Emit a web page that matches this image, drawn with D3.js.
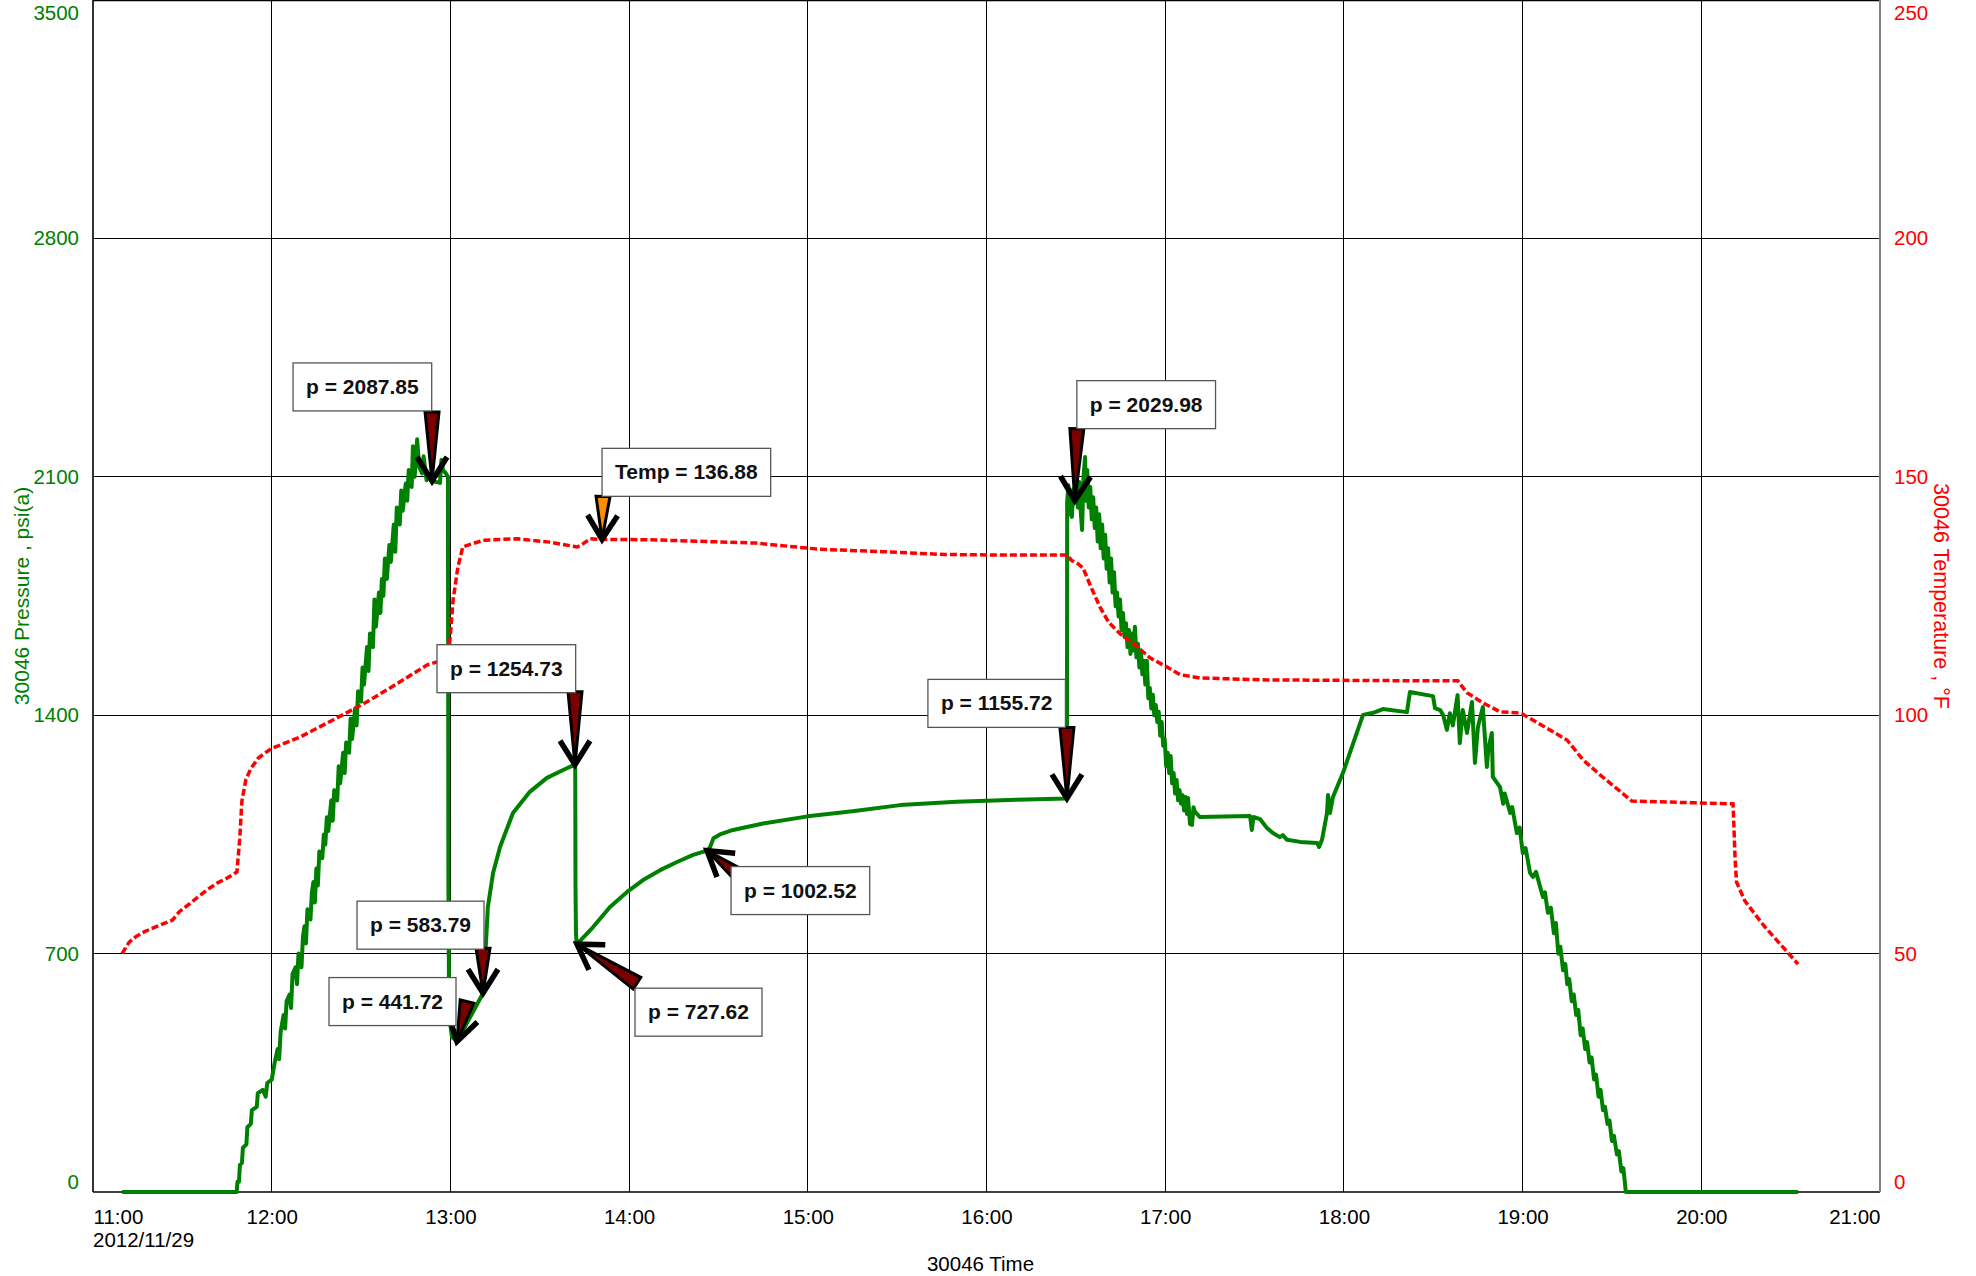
<!DOCTYPE html>
<html>
<head>
<meta charset="utf-8">
<script src="https://cdn.jsdelivr.net/npm/d3@7"></script>
<style>
  body { margin: 0; background: #fff; }
  svg { display: block; font-family: "Liberation Sans", Arial, sans-serif; }
</style>
</head>
<body>
<div id="wrapper"></div>
<script>
// gauge 30046, 2012/11/29 - clock times and readings taken off the plot

const pressureTimes = [
  "11:09:45", "11:48:15", "11:48:30", "11:49:00", "11:49:20", "11:50:00", "11:50:20", "11:51:30", "11:51:50", "11:53:00",
  "11:53:20", "11:55:00", "11:55:20", "11:57:00", "11:58:00", "11:58:30", "12:00:00", "12:01:00", "12:02:00", "12:02:30",
  "12:03:00", "12:04:00", "12:04:30", "12:05:00", "12:06:00", "12:06:30", "12:07:00", "12:08:00", "12:08:30", "12:09:00",
  "12:10:00", "12:10:30", "12:11:00", "12:11:30", "12:12:00", "12:13:00", "12:13:30", "12:14:00", "12:14:30", "12:15:00",
  "12:15:30", "12:16:00", "12:17:00", "12:17:30", "12:18:00", "12:18:30", "12:19:00", "12:20:00", "12:20:30", "12:21:00",
  "12:22:00", "12:22:30", "12:23:00", "12:24:00", "12:24:30", "12:25:00", "12:26:00", "12:26:30", "12:27:00", "12:28:00",
  "12:28:30", "12:29:00", "12:30:00", "12:30:30", "12:31:00", "12:32:00", "12:32:30", "12:33:00", "12:34:00", "12:34:30",
  "12:35:00", "12:36:00", "12:36:30", "12:37:00", "12:37:30", "12:38:00", "12:38:40", "12:39:30", "12:40:00", "12:41:00",
  "12:41:30", "12:42:00", "12:43:00", "12:43:30", "12:44:00", "12:45:00", "12:45:30", "12:46:00", "12:47:00", "12:47:25",
  "12:48:00", "12:48:50", "12:49:30", "12:50:30", "12:51:00", "12:52:00", "12:53:00", "12:53:50", "12:56:30", "12:57:00",
  "12:57:30", "12:58:30", "12:59:10", "12:59:20", "12:59:35", "13:00:30", "13:02:13", "13:10:57", "13:11:20", "13:12:00",
  "13:12:35", "13:14:20", "13:16:40", "13:21:00", "13:26:40", "13:32:25", "13:37:50", "13:41:50", "13:41:55", "13:42:00",
  "13:42:10", "13:42:20", "13:42:30", "13:47:55", "13:53:35", "13:59:20", "14:04:40", "14:10:25", "14:16:05", "14:21:30",
  "14:26:10", "14:27:10", "14:28:20", "14:30:30", "14:34:55", "14:45:00", "15:00:00", "15:15:00", "15:31:00", "15:50:00",
  "16:10:00", "16:27:00", "16:27:05", "16:27:30", "16:27:50", "16:28:10", "16:28:40", "16:29:10", "16:29:40", "16:30:10",
  "16:30:40", "16:31:10", "16:31:40", "16:32:05", "16:32:35", "16:33:05", "16:33:25", "16:33:50", "16:34:20", "16:34:50",
  "16:35:20", "16:35:50", "16:36:20", "16:36:50", "16:37:20", "16:37:50", "16:38:20", "16:38:50", "16:39:20", "16:39:50",
  "16:40:20", "16:40:50", "16:41:20", "16:41:50", "16:42:20", "16:42:50", "16:43:20", "16:43:50", "16:44:20", "16:44:50",
  "16:45:20", "16:45:50", "16:46:20", "16:46:50", "16:47:20", "16:47:50", "16:48:20", "16:48:50", "16:49:20", "16:49:50",
  "16:50:20", "16:50:50", "16:51:20", "16:51:50", "16:52:20", "16:52:50", "16:53:20", "16:53:50", "16:54:20", "16:54:50",
  "16:55:20", "16:55:50", "16:56:20", "16:56:50", "16:57:20", "16:57:50", "16:58:20", "16:58:50", "16:59:20", "16:59:50",
  "17:00:20", "17:00:50", "17:01:20", "17:01:50", "17:02:20", "17:02:50", "17:03:20", "17:03:50", "17:04:20", "17:04:50",
  "17:05:20", "17:05:50", "17:06:20", "17:06:50", "17:07:20", "17:07:40", "17:08:20", "17:09:00", "17:09:30", "17:10:00",
  "17:11:40", "17:28:30", "17:29:05", "17:29:40", "17:31:50", "17:34:10", "17:36:10", "17:38:30", "17:39:30", "17:40:55",
  "17:45:20", "17:51:00", "17:51:40", "17:52:40", "17:54:20", "17:54:40", "17:55:20", "17:56:20", "17:59:40", "18:06:25",
  "18:09:50", "18:13:05", "18:21:10", "18:22:10", "18:29:55", "18:30:35", "18:32:20", "18:33:20", "18:34:35", "18:35:35",
  "18:36:35", "18:38:10", "18:38:55", "18:39:55", "18:41:20", "18:43:00", "18:44:00", "18:45:00", "18:46:40", "18:48:00",
  "18:48:30", "18:49:40", "18:50:00", "18:52:25", "18:53:30", "18:54:00", "18:55:50", "18:56:30", "18:58:05", "18:59:00",
  "19:00:05", "19:01:00", "19:02:30", "19:03:30", "19:04:30", "19:06:50", "19:07:30", "19:08:30", "19:09:30", "19:10:30",
  "19:11:10", "19:12:00", "19:12:40", "19:13:35", "19:14:20", "19:15:00", "19:15:40", "19:16:30", "19:17:10", "19:18:00",
  "19:18:40", "19:19:30", "19:20:10", "19:21:00", "19:21:40", "19:22:30", "19:23:10", "19:24:00", "19:24:40", "19:25:30",
  "19:26:10", "19:27:00", "19:27:40", "19:28:30", "19:29:10", "19:30:00", "19:30:40", "19:31:40", "19:32:20", "19:33:10",
  "19:33:50", "19:34:40", "20:32:30"
]
const pressureValues = [
  0, 0, 30, 30, 80, 85, 130, 140, 190, 200,
  240, 250, 290, 300, 280, 320, 330, 380, 420, 390,
  470, 520, 480, 560, 580, 540, 640, 660, 610, 700,
  660, 750, 780, 730, 830, 800, 880, 910, 850, 950,
  900, 1000, 980, 1050, 1020, 1100, 1060, 1150, 1090, 1180,
  1150, 1250, 1200, 1290, 1230, 1320, 1290, 1390, 1330, 1420,
  1370, 1470, 1440, 1540, 1490, 1600, 1530, 1640, 1600, 1740,
  1660, 1760, 1700, 1800, 1750, 1860, 1800, 1900, 1850, 1960,
  1880, 2010, 1960, 2060, 2000, 2080, 2030, 2120, 2070, 2190,
  2100, 2210, 2130, 2110, 2160, 2090, 2100, 2087.85, 2082, 2150,
  2120, 2110, 2100, 900, 520, 455, 441.72, 583.79, 652, 740,
  837, 937, 1013, 1113, 1175, 1216, 1239, 1254.73, 1240, 900,
  760, 735, 727.62, 778, 837, 881, 916, 945, 969, 990,
  1002.52, 1012, 1039, 1050, 1063, 1082, 1103, 1118, 1136, 1146,
  1152, 1155.72, 2026, 2075, 1990, 2053, 1982, 2065, 2029.98, 2110,
  2010, 2085, 1995, 1944, 2100, 2158, 2030, 2120, 2010, 2070,
  1975, 2040, 1950, 2010, 1910, 1990, 1890, 1960, 1860, 1930,
  1830, 1890, 1790, 1860, 1760, 1820, 1720, 1760, 1690, 1740,
  1650, 1700, 1630, 1670, 1600, 1650, 1580, 1640, 1590, 1660,
  1570, 1610, 1540, 1590, 1520, 1560, 1490, 1560, 1450, 1480,
  1420, 1460, 1400, 1430, 1380, 1410, 1340, 1380, 1310, 1330,
  1250, 1290, 1230, 1280, 1200, 1230, 1170, 1210, 1150, 1180,
  1140, 1165, 1120, 1160, 1110, 1157, 1080, 1078, 1130, 1116,
  1101, 1104, 1063, 1101, 1095, 1069, 1054, 1042, 1048, 1034,
  1028, 1025, 1013, 1035, 1113, 1166, 1113, 1160, 1230, 1401,
  1407, 1418, 1409, 1468, 1456, 1421, 1415, 1400, 1357, 1406,
  1370, 1459, 1318, 1415, 1348, 1439, 1260, 1365, 1424, 1248,
  1300, 1348, 1219, 1189, 1140, 1170, 1113, 1130, 1054, 1070,
  995, 1010, 937, 925, 940, 866, 880, 820, 835, 760,
  790, 700, 720, 651, 670, 610, 625, 560, 580, 520,
  535, 460, 480, 420, 440, 380, 395, 330, 345, 280,
  300, 240, 250, 200, 210, 150, 165, 110, 120, 60,
  70, 0, 0
]

const temperatureTimes = [
  "11:09:45", "11:12:10", "11:14:30", "11:17:20", "11:21:00", "11:26:40", "11:29:00", "11:32:10", "11:35:30", "11:38:35",
  "11:42:00", "11:44:55", "11:48:20", "11:49:15", "11:50:00", "11:51:20", "11:53:00", "11:55:30", "11:59:50", "12:09:30",
  "12:20:35", "12:32:00", "12:43:05", "12:52:05", "12:55:30", "12:58:55", "12:59:30", "13:00:55", "13:02:30", "13:04:10",
  "13:11:00", "13:22:25", "13:33:25", "13:42:30", "13:43:30", "13:46:55", "13:50:55", "14:07:00", "14:42:35", "15:03:50",
  "15:25:00", "15:46:00", "16:04:30", "16:27:00", "16:28:30", "16:30:25", "16:32:25", "16:35:00", "16:38:05", "16:41:00",
  "16:45:00", "16:49:10", "16:55:00", "17:00:35", "17:05:00", "17:11:40", "17:34:10", "18:29:55", "18:38:15", "18:41:20",
  "18:46:40", "18:52:25", "18:58:05", "19:00:05", "19:09:10", "19:14:55", "19:20:20", "19:26:00", "19:36:40", "20:10:40",
  "20:11:20", "20:11:50", "20:14:40", "20:21:05", "20:27:30", "20:32:30"
]
const temperatureValues = [
  50, 52.4, 53.6, 54.6, 55.6, 57, 58.8, 60.3, 62, 63.5,
  64.9, 65.8, 67.1, 74, 82, 86.5, 88.8, 91, 93, 95.4,
  99, 102.8, 107, 110.5, 111.2, 112, 113, 124.2, 131, 135.3,
  136.7, 137, 136.3, 135.3, 135.5, 137, 136.88, 136.8, 136.1, 134.8,
  134.3, 133.7, 133.6, 133.6, 132.5, 131.9, 130.9, 127, 122.7, 119.5,
  117, 115.1, 112, 110.1, 108.5, 107.8, 107.4, 107.2, 107.2, 104.7,
  102.6, 100.7, 100.5, 100.2, 96.9, 94.8, 90.6, 87.5, 82, 81.4,
  70, 65, 61, 55.8, 51.3, 47.8
]

const pressureTicks = [0, 700, 1400, 2100, 2800, 3500]
const temperatureTicks = [0, 50, 100, 150, 200, 250]
const hourTicks = ["11:00", "12:00", "13:00", "14:00", "15:00", "16:00", "17:00", "18:00", "19:00", "20:00", "21:00"]
const dateLabel = "2012/11/29"

const calloutLabels = ["p = 2087.85", "Temp = 136.88", "p = 1254.73", "p = 583.79", "p = 441.72",
  "p = 727.62", "p = 1002.52", "p = 1155.72", "p = 2029.98"]
const calloutTimes = ["12:53:50", "13:50:55", "13:41:50", "13:10:57", "13:02:13",
  "13:42:30", "14:26:10", "16:27:00", "16:29:40"]
const calloutValues = [2087.85, 136.88, 1254.73, 583.79, 441.72, 727.62, 1002.52, 1155.72, 2029.98]
const calloutSeries = ["p", "T", "p", "p", "p", "p", "p", "p", "p"]

function drawChart() {

  // 1. Access data

  const parseClock = d3.timeParse("%Y-%m-%d %H:%M:%S")
  const toDate = s => parseClock("2012-11-29 " + (s.length === 5 ? s + ":00" : s))

  const pressure = d3.zip(pressureTimes, pressureValues).map(([t, v]) => ({ date: toDate(t), value: v }))
  const temperature = d3.zip(temperatureTimes, temperatureValues).map(([t, v]) => ({ date: toDate(t), value: v }))
  const hours = hourTicks.map(toDate)

  // 2. Create chart dimensions

  let dimensions = {
    width: 1976,
    height: 1276,
    margin: {
      top: 0,
      right: 96,
      bottom: 84,
      left: 93,
    },
  }
  dimensions.boundedWidth = dimensions.width - dimensions.margin.left - dimensions.margin.right
  dimensions.boundedHeight = dimensions.height - dimensions.margin.top - dimensions.margin.bottom

  const green = "#008000"
  const red = "#ff0000"

  // 3. Draw canvas

  const wrapper = d3.select("#wrapper")
    .append("svg")
      .attr("width", dimensions.width)
      .attr("height", dimensions.height)

  const bounds = wrapper.append("g")
      .attr("transform", `translate(${dimensions.margin.left}, ${dimensions.margin.top})`)

  // 4. Create scales

  const xScale = d3.scaleTime()
    .domain([hours[0], hours[hours.length - 1]])
    .range([0, dimensions.boundedWidth])

  const pressureScale = d3.scaleLinear()
    .domain([0, 3500])
    .range([dimensions.boundedHeight, 0])

  const temperatureScale = d3.scaleLinear()
    .domain([0, 250])
    .range([dimensions.boundedHeight, 0])

  // grid
  const grid = bounds.append("g")
      .attr("stroke", "#000")
      .attr("stroke-width", 1)
      .attr("shape-rendering", "crispEdges")

  grid.selectAll(".v")
    .data(hours.slice(1, -1))
    .join("line")
      .attr("x1", d => xScale(d))
      .attr("x2", d => xScale(d))
      .attr("y1", 0)
      .attr("y2", dimensions.boundedHeight)

  grid.selectAll(".h")
    .data(pressureTicks.slice(1, -1))
    .join("line")
      .attr("x1", 0)
      .attr("x2", dimensions.boundedWidth)
      .attr("y1", d => pressureScale(d))
      .attr("y2", d => pressureScale(d))

  // frame
  bounds.append("line")
      .attr("x1", 0).attr("x2", dimensions.boundedWidth)
      .attr("y1", 0.5).attr("y2", 0.5)
      .attr("stroke", "#000").attr("stroke-width", 1.5)
  bounds.append("line")
      .attr("x1", 0).attr("x2", dimensions.boundedWidth)
      .attr("y1", dimensions.boundedHeight).attr("y2", dimensions.boundedHeight)
      .attr("stroke", "#000").attr("stroke-width", 1.6)
  bounds.append("line")
      .attr("x1", 0).attr("x2", 0)
      .attr("y1", 0).attr("y2", dimensions.boundedHeight)
      .attr("stroke", "#000").attr("stroke-width", 1.6)
  bounds.append("line")
      .attr("x1", dimensions.boundedWidth).attr("x2", dimensions.boundedWidth)
      .attr("y1", 0).attr("y2", dimensions.boundedHeight)
      .attr("stroke", "#808080").attr("stroke-width", 2)

  // 5. Draw data

  const pressureLine = d3.line()
    .x(d => xScale(d.date))
    .y(d => pressureScale(d.value))

  const temperatureLine = d3.line()
    .x(d => xScale(d.date))
    .y(d => temperatureScale(d.value))

  bounds.append("path")
      .datum(pressure)
      .attr("d", pressureLine)
      .attr("fill", "none")
      .attr("stroke", green)
      .attr("stroke-width", 4)
      .attr("stroke-linejoin", "round")

  bounds.append("path")
      .datum(temperature)
      .attr("d", temperatureLine)
      .attr("fill", "none")
      .attr("stroke", red)
      .attr("stroke-width", 3.5)
      .attr("stroke-dasharray", "7,3")

  // 6. Draw peripherals

  const axisFont = g => g
      .attr("font-family", "'Liberation Sans', Arial, sans-serif")
      .attr("font-size", 20.5)
      .call(g => g.select(".domain").remove())

  const leftAxis = bounds.append("g")
    .call(d3.axisLeft(pressureScale).tickValues(pressureTicks).tickFormat(d3.format("d")).tickSize(0).tickPadding(14))
    .call(axisFont)
  leftAxis.selectAll("text").attr("fill", green)

  const rightAxis = bounds.append("g")
      .attr("transform", `translate(${dimensions.boundedWidth}, 0)`)
    .call(d3.axisRight(temperatureScale).tickValues(temperatureTicks).tickFormat(d3.format("d")).tickSize(0).tickPadding(14))
    .call(axisFont)
  rightAxis.selectAll("text").attr("fill", red)

  // keep the end labels inside the plot height
  ;[leftAxis, rightAxis].forEach(axis => {
    axis.selectAll(".tick text")
      .attr("dy", (d, i, nodes) => i === 0 ? "-0.18em" : i === nodes.length - 1 ? "0.95em" : "0.32em")
  })

  const xAxis = bounds.append("g")
      .attr("transform", `translate(0, ${dimensions.boundedHeight})`)
    .call(d3.axisBottom(xScale).tickValues(hours).tickFormat(d3.timeFormat("%H:%M")).tickSize(0).tickPadding(17))
    .call(axisFont)
  xAxis.selectAll(".tick text")
      .attr("fill", "#000")
      .attr("text-anchor", (d, i) => i === 0 ? "start" : i === hours.length - 1 ? "end" : "middle")

  xAxis.append("text")
      .attr("x", 0)
      .attr("y", 55)
      .attr("fill", "#000")
      .attr("text-anchor", "start")
      .text(dateLabel)

  xAxis.append("text")
      .attr("x", dimensions.boundedWidth / 2 - 6)
      .attr("y", 79)
      .attr("fill", "#000")
      .attr("text-anchor", "middle")
      .text("30046 Time")

  wrapper.append("text")
      .attr("transform", `translate(29, ${dimensions.boundedHeight / 2}) rotate(-90)`)
      .attr("text-anchor", "middle")
      .attr("font-size", 21)
      .attr("fill", green)
      .text("30046 Pressure , psi(a)")

  wrapper.append("text")
      .attr("transform", `translate(1934, ${dimensions.boundedHeight / 2}) rotate(90)`)
      .attr("text-anchor", "middle")
      .attr("font-size", 21.5)
      .attr("fill", red)
      .text("30046 Temperature , °F")

  // 7. Callouts: box placement (top-left) and arrow tail, relative to the marked point
  const calloutLayout = [
    { bx: -139, by: -118, tx: 0, ty: -69 },
    { bx: 0, by: -91, tx: 1, ty: -43 },
    { bx: -138, by: -120, tx: 0, ty: -73 },
    { bx: -126, by: -92, tx: 0, ty: -45 },
    { bx: -128, by: -64, tx: 10, ty: -40 },
    { bx: 58, by: 44, tx: 60, ty: 39 },
    { bx: 24, by: 16, tx: 34, ty: 26 },
    { bx: -139, by: -119, tx: 0, ty: -71 },
    { bx: 2, by: -120, tx: 2, ty: -72 },
  ]

  const callouts = calloutLabels.map((label, i) => {
    const date = toDate(calloutTimes[i])
    const yScale = calloutSeries[i] === "T" ? temperatureScale : pressureScale
    return {
      label,
      series: calloutSeries[i],
      tipX: xScale(date),
      tipY: yScale(calloutValues[i]),
      ...calloutLayout[i],
    }
  })

  const arrows = bounds.append("g")
  callouts.forEach(c => {
    const dx = -c.tx
    const dy = -c.ty
    const len = Math.hypot(dx, dy)
    const angle = Math.atan2(dy, dx) * 180 / Math.PI
    const g = arrows.append("g")
        .attr("transform", `translate(${c.tipX}, ${c.tipY}) rotate(${angle})`)
    g.append("path")
        .attr("d", `M${-len},-7 L${-len},7 L0,0 Z`)
        .attr("fill", c.series === "T" ? "#ff8c00" : "#7a0000")
        .attr("stroke", "#000")
        .attr("stroke-width", 3)
        .attr("stroke-linejoin", "miter")
    g.append("path")
        .attr("d", "M-24,-15 L0,0 L-24,15")
        .attr("fill", "none")
        .attr("stroke", "#000")
        .attr("stroke-width", 5.5)
        .attr("stroke-linejoin", "miter")
  })

  const boxes = bounds.append("g")
  callouts.forEach(c => {
    const g = boxes.append("g")
        .attr("transform", `translate(${c.tipX + c.bx}, ${c.tipY + c.by})`)
    const rect = g.append("rect")
        .attr("height", 48)
        .attr("fill", "#fff")
        .attr("stroke", "#555")
        .attr("stroke-width", 1.3)
    const text = g.append("text")
        .attr("x", 13)
        .attr("y", 31)
        .attr("font-size", 21)
        .attr("font-weight", "bold")
        .attr("fill", "#111")
        .text(c.label)
    rect.attr("width", text.node().getComputedTextLength() + 26)
  })
}
drawChart()
</script>
</body>
</html>
